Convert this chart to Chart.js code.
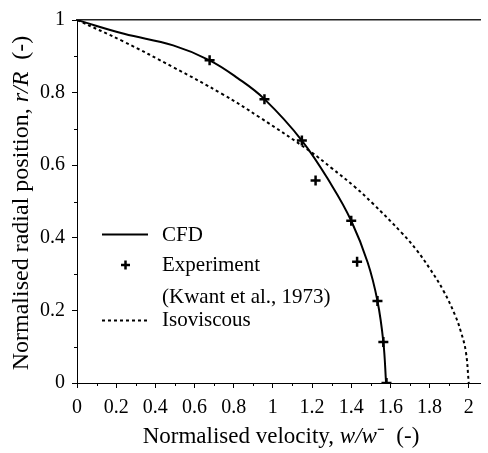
<!DOCTYPE html>
<html>
<head>
<meta charset="utf-8">
<script src="https://cdn.jsdelivr.net/npm/chart.js@4.4.0/dist/chart.umd.min.js"></script>
<style>
  body { margin: 0; background: #fff; }
  #wrap { width: 488px; height: 453px; }
</style>
</head>
<body>
<div id="wrap"><canvas id="myChart" width="488" height="453"></canvas></div>
<script>
// CFD profile (solid line)
var cfdX = [0, 0.24, 0.491, 0.677, 0.82, 0.957, 1.148, 1.30, 1.40, 1.484, 1.534, 1.564, 1.578];
var cfdY = [1, 0.962, 0.930, 0.889, 0.840, 0.782, 0.668, 0.545, 0.447, 0.332, 0.226, 0.113, 0];

// Experiment (Kwant et al., 1973)
var expX = [0.677, 0.957, 1.148, 1.218, 1.40, 1.43, 1.534, 1.564, 1.58];
var expY = [0.889, 0.782, 0.668, 0.558, 0.447, 0.334, 0.226, 0.113, 0.0];

// Isoviscous profile (dashed line)
var isoX = [0, 0.24, 0.491, 0.742, 0.932, 1.193, 1.30, 1.419, 1.509, 1.659, 1.734, 1.80, 1.87, 1.93, 1.96, 1.985, 2.0];
var isoY = [1, 0.940, 0.870, 0.796, 0.732, 0.637, 0.592, 0.540, 0.495, 0.413, 0.366, 0.316, 0.255, 0.187, 0.141, 0.087, 0];

var xTicks = [0, 0.2, 0.4, 0.6, 0.8, 1, 1.2, 1.4, 1.6, 1.8, 2];
var yTicks = [0, 0.2, 0.4, 0.6, 0.8, 1];

var FONT = '"Liberation Serif", "Times New Roman", serif';
Chart.defaults.font.family = FONT;

function toPoints(xs, ys) {
    return xs.map(function (x, i) { return { x: x, y: ys[i] }; });
}

// minor ticks, axis titles (with italic parts) and legend
var extras = {
    id: 'extras',
    afterDraw: function (chart) {
        var ctx = chart.ctx;
        var xs = chart.scales.x, ys = chart.scales.y;
        var area = chart.chartArea;
        ctx.save();
        ctx.strokeStyle = '#000';
        ctx.lineWidth = 1;
        // minor ticks
        for (var v = 0.1; v < 2; v += 0.2) {
            var px = Math.round(xs.getPixelForValue(v)) + 0.5;
            ctx.beginPath();
            ctx.moveTo(px, area.bottom);
            ctx.lineTo(px, area.bottom + 3);
            ctx.stroke();
        }
        for (var w = 0.1; w < 1; w += 0.2) {
            var py = Math.round(ys.getPixelForValue(w)) + 0.5;
            ctx.beginPath();
            ctx.moveTo(area.left - 3, py);
            ctx.lineTo(area.left, py);
            ctx.stroke();
        }

        // axis titles
        ctx.fillStyle = '#000';
        drawMixed(ctx, [['Normalised velocity, ', '23px ' + FONT], ['w/w', 'italic 23px ' + FONT],
            ['\u207B', '23px ' + FONT], ['  (-)', '23px ' + FONT]], 281, 437);
        ctx.save();
        ctx.translate(22, 203);
        ctx.rotate(-Math.PI / 2);
        drawMixed(ctx, [['Normalised radial position, ', '24px ' + FONT], ['r/R', 'italic 24px ' + FONT],
            ['  (-)', '24px ' + FONT]], 0, 0);
        ctx.restore();

        // legend
        ctx.font = '21px ' + FONT;
        ctx.textAlign = 'left';
        ctx.textBaseline = 'middle';
        ctx.lineWidth = 2;
        ctx.beginPath();
        ctx.moveTo(102, 234.5);
        ctx.lineTo(148, 234.5);
        ctx.stroke();
        ctx.fillText('CFD', 162, 235);

        ctx.lineWidth = 2.5;
        ctx.beginPath();
        ctx.moveTo(121, 265); ctx.lineTo(130, 265);
        ctx.moveTo(125.5, 260.5); ctx.lineTo(125.5, 269.5);
        ctx.stroke();
        ctx.fillText('Experiment', 162, 265);
        ctx.fillText('(Kwant et al., 1973)', 162, 297);

        ctx.lineWidth = 2;
        ctx.setLineDash([3, 3]);
        ctx.beginPath();
        ctx.moveTo(102, 320.5);
        ctx.lineTo(148, 320.5);
        ctx.stroke();
        ctx.setLineDash([]);
        ctx.fillText('Isoviscous', 162, 320);
        ctx.restore();
    }
};

function drawMixed(ctx, parts, cx, cy) {
    var total = 0;
    parts.forEach(function (p) { ctx.font = p[1]; total += ctx.measureText(p[0]).width; });
    var x = cx - total / 2;
    ctx.textAlign = 'left';
    ctx.textBaseline = 'middle';
    parts.forEach(function (p) {
        ctx.font = p[1];
        ctx.fillText(p[0], x, cy);
        x += ctx.measureText(p[0]).width;
    });
}

var ctx = document.getElementById('myChart').getContext('2d');
new Chart(ctx, {
    type: 'scatter',
    data: {
        datasets: [{
            label: 'CFD',
            data: toPoints(cfdX, cfdY),
            showLine: true,
            borderColor: '#000',
            borderWidth: 2,
            pointRadius: 0,
            tension: 0.4
        }, {
            label: 'Isoviscous',
            data: toPoints(isoX, isoY),
            showLine: true,
            borderColor: '#000',
            borderWidth: 2,
            borderDash: [3, 3],
            pointRadius: 0,
            tension: 0.4
        }, {
            label: 'Experiment',
            data: toPoints(expX, expY),
            showLine: false,
            pointStyle: 'cross',
            pointRadius: 5,
            borderColor: '#000',
            borderWidth: 2.5
        }]
    },
    options: {
        responsive: false,
        animation: false,
        layout: { padding: { top: 12, right: 0, left: 0, bottom: 0 } },
        plugins: { legend: { display: false }, tooltip: { enabled: false } },
        scales: {
            x: {
                type: 'linear',
                min: 0,
                max: 2.06,
                afterBuildTicks: function (scale) {
                    scale.ticks = xTicks.map(function (v) { return { value: v }; });
                },
                afterFit: function (scale) { scale.height = 70; },
                ticks: {
                    color: '#000',
                    padding: 8,
                    maxRotation: 0,
                    font: { family: FONT, size: 20 },
                    callback: function (v) { return String(Math.round(v * 10) / 10); }
                },
                grid: { drawOnChartArea: false, tickLength: 5, color: '#000' },
                border: { color: '#000', width: 1 }
            },
            xTop: {
                type: 'linear',
                position: 'top',
                min: 0,
                max: 2.06,
                ticks: { display: false },
                grid: { display: false },
                border: { color: '#222', width: 1.5 }
            },
            y: {
                min: 0,
                max: 1,
                afterBuildTicks: function (scale) {
                    scale.ticks = yTicks.map(function (v) { return { value: v }; });
                },
                afterFit: function (scale) { scale.width = 77; },
                ticks: {
                    color: '#000',
                    padding: 7,
                    font: { family: FONT, size: 20 },
                    callback: function (v) { return String(Math.round(v * 10) / 10); }
                },
                grid: { drawOnChartArea: false, tickLength: 5, color: '#000' },
                border: { color: '#000', width: 1 }
            }
        }
    },
    plugins: [extras]
});
</script>
</body>
</html>
